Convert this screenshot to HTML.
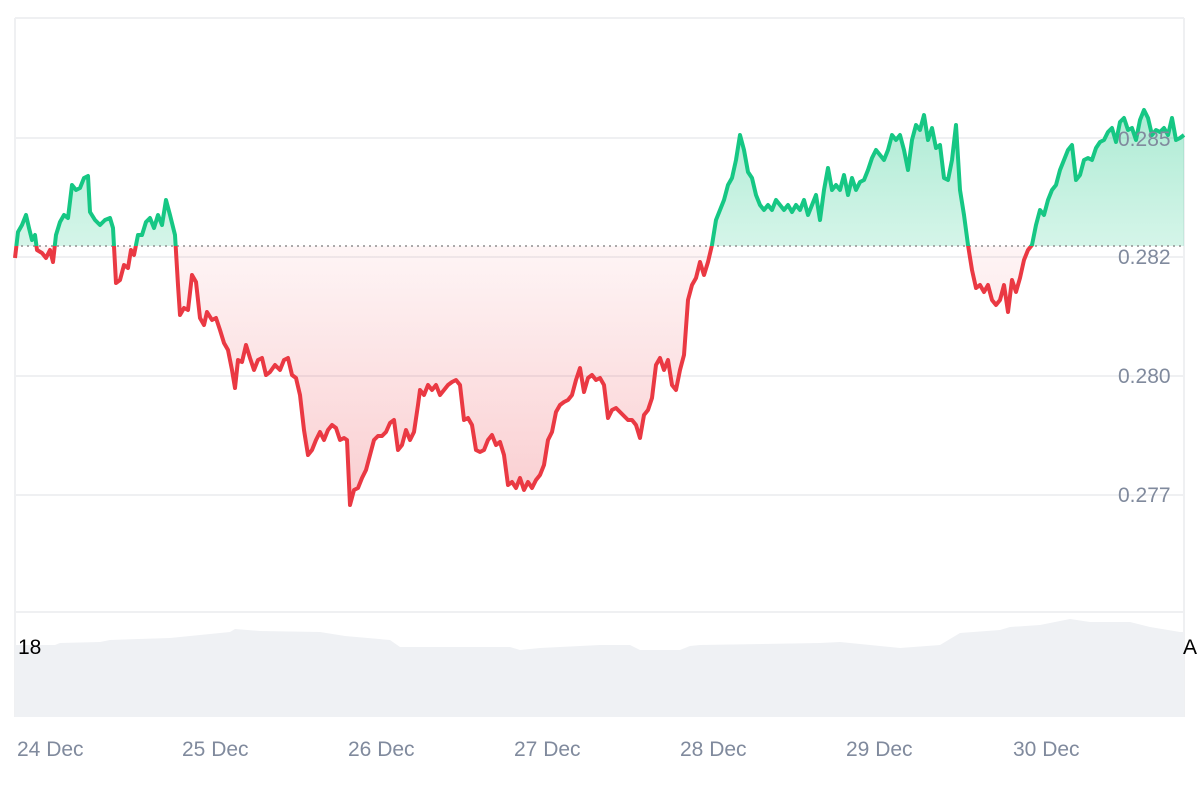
<!DOCTYPE html>
<html><head><meta charset="utf-8"><style>
html,body{margin:0;padding:0;background:#fff;}
svg{display:block;font-family:"Liberation Sans",sans-serif;}
</style></head><body>
<svg width="1200" height="800" viewBox="0 0 1200 800">
<defs>
<linearGradient id="gg" x1="0" y1="110" x2="0" y2="246" gradientUnits="userSpaceOnUse">
<stop offset="0" stop-color="#16c784" stop-opacity="0.35"/><stop offset="1" stop-color="#16c784" stop-opacity="0.18"/></linearGradient>
<linearGradient id="rg" x1="0" y1="246" x2="0" y2="505" gradientUnits="userSpaceOnUse">
<stop offset="0" stop-color="#ea3943" stop-opacity="0.05"/><stop offset="1" stop-color="#ea3943" stop-opacity="0.25"/></linearGradient>
<clipPath id="top"><rect x="0" y="0" width="1200" height="246"/></clipPath>
<clipPath id="bot"><rect x="0" y="246" width="1200" height="400"/></clipPath>
</defs>
<g stroke="#eff0f2" stroke-width="2">
<line x1="15" y1="18" x2="1184" y2="18"/>
<line x1="15" y1="138" x2="1184" y2="138"/>
<line x1="15" y1="257" x2="1184" y2="257"/>
<line x1="15" y1="376" x2="1184" y2="376"/>
<line x1="15" y1="495" x2="1184" y2="495"/>
<line x1="15" y1="612" x2="1184" y2="612"/>
<line x1="15" y1="18" x2="15" y2="717"/>
<line x1="1184" y1="18" x2="1184" y2="717"/>
</g>
<polygon fill="#eff1f4" points="15,717 15,645 55,645 60,643 100,642 110,640 170,638 200,635 230,632 235,629 260,631 320,632 345,636 390,640 400,647 510,647 520,650 540,648 600,645 630,645 640,650 680,650 690,646 700,645 820,643 840,642 900,648 940,645 960,633 1000,630 1010,627 1040,625 1070,619 1090,622 1130,622 1150,627 1180,632 1184,632 1184,717"/>
<g id="d">
</g>
<g font-size="21" fill="#808a9d">
<text x="1118" y="146">0.285</text>
<text x="1118" y="264">0.282</text>
<text x="1118" y="383">0.280</text>
<text x="1118" y="502">0.277</text>
</g>
<g font-size="21" fill="#808a9d">
<text x="17" y="756">24 Dec</text>
<text x="182" y="756">25 Dec</text>
<text x="348" y="756">26 Dec</text>
<text x="514" y="756">27 Dec</text>
<text x="680" y="756">28 Dec</text>
<text x="846" y="756">29 Dec</text>
<text x="1013" y="756">30 Dec</text>
</g>
<text x="18" y="654" font-size="21" fill="#000">18</text>
<text x="1183" y="654" font-size="21" fill="#000">A</text>
</svg>
<script>
var p="15,258 18,232 22,225 26,215 29,228 32,240 35,235 37,250 42,253 46,258 50,250 53,262 56,235 60,222 64,215 68,218 72,185 76,190 80,188 84,178 88,176 90,212 95,220 100,225 105,220 110,218 113,228 116,283 120,280 124,265 128,268 131,250 134,255 138,235 142,235 146,222 150,218 154,228 158,215 162,225 166,200 170,215 175,235 178,285 180,315 184,308 188,310 192,275 196,282 200,318 204,325 207,312 212,320 216,318 220,330 224,343 228,350 232,370 235,388 238,360 242,362 246,345 250,358 254,370 258,360 262,358 266,375 270,372 275,365 280,370 284,360 288,358 292,375 296,378 300,395 304,430 308,455 312,450 316,440 320,432 324,440 328,430 332,425 336,428 340,440 344,438 347,440 350,505 354,490 358,488 362,478 366,470 370,455 374,440 378,436 382,436 386,432 390,423 394,420 398,450 402,445 406,430 410,440 414,432 418,405 420,390 424,395 428,385 432,390 436,385 440,395 444,390 448,385 452,382 456,380 460,385 464,420 468,418 472,425 476,450 480,452 484,450 488,440 492,435 496,445 500,442 504,455 508,485 512,482 516,488 520,478 524,490 528,482 532,488 536,480 540,475 544,465 548,440 552,432 556,412 560,405 564,402 568,400 572,395 576,380 580,368 584,392 588,378 592,375 596,380 600,378 604,385 608,418 612,410 616,408 620,412 624,416 628,420 632,420 636,425 640,438 644,415 648,410 652,398 656,365 660,358 664,370 668,360 672,385 676,390 680,370 684,355 688,300 692,285 696,278 700,262 704,275 708,262 712,245 716,220 720,210 724,200 728,185 732,178 736,160 740,135 744,150 748,172 752,178 756,195 760,205 764,210 768,205 772,210 776,200 780,205 784,210 788,205 792,212 796,205 800,210 804,200 808,215 812,205 816,195 820,220 824,190 828,168 832,190 836,185 840,190 844,175 848,195 852,178 856,190 860,182 864,180 868,170 872,158 876,150 880,155 884,160 888,150 892,135 896,140 900,135 904,150 908,170 912,140 916,125 920,130 924,115 928,140 932,128 936,148 940,145 944,178 948,180 952,160 956,125 960,190 964,215 968,245 972,270 976,288 980,285 984,292 988,285 992,300 996,305 1000,300 1004,285 1008,312 1012,280 1016,292 1020,278 1024,260 1028,250 1032,245 1036,225 1040,210 1044,215 1048,200 1052,190 1056,185 1060,170 1064,160 1068,150 1072,145 1076,180 1080,175 1084,160 1088,158 1092,160 1096,148 1100,142 1104,140 1108,132 1112,128 1116,142 1120,122 1124,118 1128,130 1132,128 1136,140 1140,120 1144,110 1148,118 1152,135 1156,130 1160,132 1164,128 1168,135 1172,118 1176,140 1180,138 1184,135";
var area="15,246 "+p+" 1184,246";
var g=document.getElementById('d');
g.innerHTML='<polygon clip-path="url(#top)" fill="url(#gg)" points="'+area+'"/>'+
'<polygon clip-path="url(#bot)" fill="url(#rg)" points="'+area+'"/>'+
'<line x1="15" y1="246" x2="1184" y2="246" stroke="#8f8f8f" stroke-width="1.5" stroke-dasharray="2,4"/>'+
'<polyline clip-path="url(#top)" fill="none" stroke="#16c784" stroke-width="4" stroke-linejoin="round" points="'+p+'"/>'+
'<polyline clip-path="url(#bot)" fill="none" stroke="#ea3943" stroke-width="4" stroke-linejoin="round" points="'+p+'"/>';
</script>
</body></html>
